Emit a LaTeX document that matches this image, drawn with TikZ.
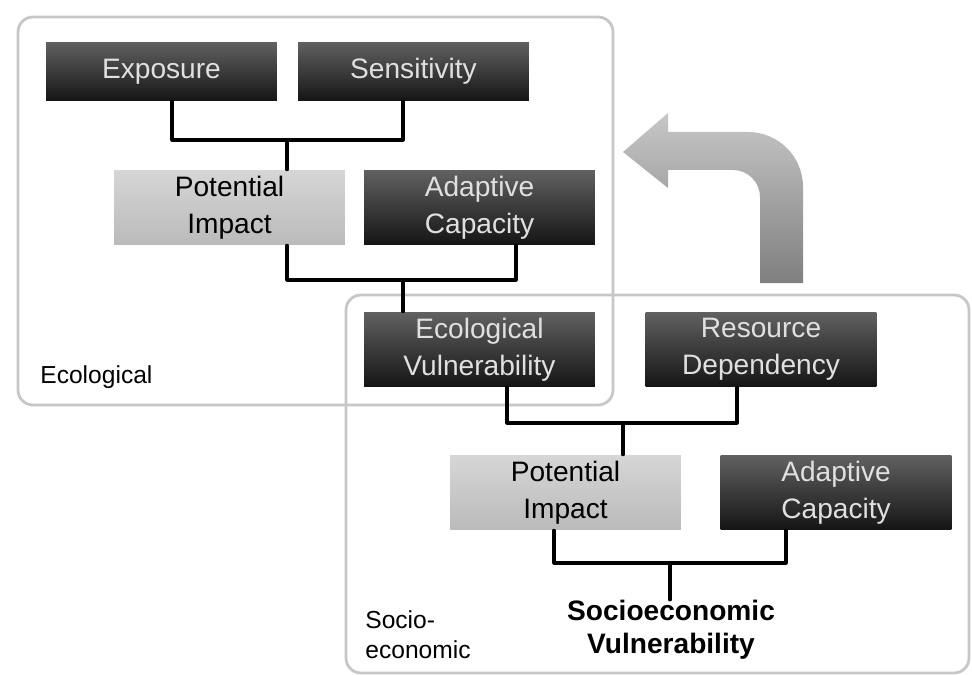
\documentclass[tikz,border=0pt]{standalone}
\usepackage{fontspec}
\setmainfont{Liberation Sans}
\begin{document}
\begin{tikzpicture}[x=0.02cm, y=-0.02cm, line join=round, line cap=round,
	box/.style={inner sep=0pt, minimum width=4.62cm, minimum height=1.5cm, align=center, font=\fontsize{16}{21}\selectfont},
	darkbox/.style={box, top color=black!62, bottom color=black!92, text=white!88!black},
	lightbox/.style={box, top color=black!16, bottom color=black!27, text=black},
	frame/.style={draw=black!22, line width=1.6pt, rounded corners=0.3cm},
	link/.style={line width=1.8pt, black}]
			\useasboundingbox (0,0) rectangle (972,675);
			\draw[frame] (346,295) rectangle (969,673);
			\draw[frame] (18,17) rectangle (613,405);
			\shade[top color=black!22, bottom color=black!50] (623,152)--(668,113)--(668,132)--(748,132)
				arc[start angle=-90, end angle=0, radius=55]--(803,283)--(760,283)--(760,197)
				arc[start angle=0, end angle=-90, radius=27]--(668,170)--(668,188)--cycle;
			\node[darkbox, minimum height=1.18cm] (expo) at (161.5,71.5) {Exposure};
			\node[darkbox, minimum height=1.18cm] (sens) at (413.5,71.5) {Sensitivity};
			\node[lightbox] (pi1) at (229.5,207.5) {Potential\\Impact};
			\node[darkbox] (ac1) at (479.5,207.5) {Adaptive\\Capacity};
			\node[darkbox] (ev) at (479.5,349.5) {Ecological\\Vulnerability};
			\node[darkbox] (rd) at (761,349.5) {Resource\\Dependency};
			\node[lightbox] (pi2) at (565.5,492.5) {Potential\\Impact};
			\node[darkbox] (ac2) at (836,492.5) {Adaptive\\Capacity};
			\node[inner sep=0pt, align=center, font=\fontsize{16}{19}\selectfont\bfseries] (sv) at (671,630) {Socioeconomic\\Vulnerability};
			\node[anchor=west, inner sep=0pt, font=\fontsize{14}{17}\selectfont] (eco) at (40,377) {Ecological};
			\node[anchor=west, inner sep=0pt, align=left, font=\fontsize{14}{17}\selectfont] (soc) at (365,635) {Socio-\\economic};
			\coordinate (j1) at (287,140);
			\coordinate (j2) at (403,280);
			\coordinate (j3) at (623,423);
			\coordinate (j4) at (670,563);
			\draw[link] ([xshift=0.21cm]expo.south) |- (j1) -| ([xshift=-0.21cm]sens.south);
			\draw[link] (j1) -- (j1 |- pi1.north);
			\draw[link] ([xshift=1.15cm]pi1.south) |- (j2) -| ([xshift=0.73cm]ac1.south);
			\draw[link] (j2) -- (j2 |- ev.north);
			\draw[link] ([xshift=0.55cm]ev.south) |- (j3) -| ([xshift=-0.48cm]rd.south);
			\draw[link] (j3) -- (j3 |- pi2.north);
			\draw[link] ([xshift=-0.23cm]pi2.south) |- (j4) -| ([xshift=-1cm]ac2.south);
			\draw[link] (j4) -- (j4 |- sv.north);
			\end{tikzpicture}
\end{document}
